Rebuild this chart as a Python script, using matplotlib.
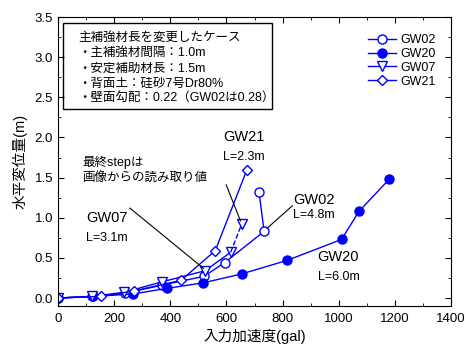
import matplotlib
matplotlib.use("Agg")
import matplotlib.pyplot as plt
from matplotlib.patches import Rectangle
from matplotlib.ticker import MultipleLocator

plt.rcParams['font.family'] = ['Liberation Sans', 'Noto Sans CJK JP', 'DejaVu Sans']

# 入力加速度(gal) と 水平変位量(m)
gw02_x = [0, 120, 240, 369, 520, 593, 734, 716]
gw02_y = [0, 0.02, 0.06, 0.16, 0.27, 0.44, 0.83, 1.32]

gw20_x = [0, 126, 266, 388, 518, 654, 817, 1010, 1072, 1180]
gw20_y = [0, 0.02, 0.05, 0.12, 0.19, 0.30, 0.47, 0.73, 1.08, 1.48]

gw07_x = [0, 120, 234, 369, 524, 615, 654]
gw07_y = [0, 0.02, 0.07, 0.20, 0.34, 0.57, 0.92]

gw21_x = [0, 152, 272, 438, 560, 672]
gw21_y = [0, 0.02, 0.09, 0.22, 0.59, 1.59]

box_lines = ["主補強材長を変更したケース",
             "・主補強材間隔：1.0m",
             "・安定補助材長：1.5m",
             "・背面土：硅砂7号Dr80%",
             "・壁面勾配：0.22（GW02は0.28）"]

c = "#0000ff"
fig = plt.figure(figsize=(4.66, 3.47), dpi=100)
ax = fig.add_axes([0.1245, 0.118, 0.8435, 0.833])

ax.plot(gw02_x, gw02_y, "-o", color=c, mfc="white", ms=6.5, lw=1, label="GW02")
ax.plot(gw20_x, gw20_y, "-o", color=c, mfc=c, ms=6.5, lw=1, label="GW20")
ax.plot(gw07_x[:-1], gw07_y[:-1], "-v", color=c, mfc="white", ms=7, lw=1, label="GW07")
ax.plot(gw07_x[-2:], gw07_y[-2:], "--", color=c, lw=1)
ax.plot(gw07_x[-1:], gw07_y[-1:], "v", color=c, mfc="white", ms=7)
ax.plot(gw21_x, gw21_y, "-D", color=c, mfc="white", ms=5.5, lw=1, label="GW21")

ax.set_xlim(0, 1400)
ax.set_ylim(-0.1, 3.5)
ax.xaxis.set_major_locator(MultipleLocator(200))
ax.xaxis.set_minor_locator(MultipleLocator(100))
ax.yaxis.set_major_locator(MultipleLocator(0.5))
ax.yaxis.set_minor_locator(MultipleLocator(0.25))
ax.yaxis.set_major_formatter(matplotlib.ticker.FormatStrFormatter("%.1f"))
ax.tick_params(which="both", direction="in", top=True, right=True, labelsize=9.5)
ax.tick_params(which="major", length=4)
ax.tick_params(which="minor", length=2.5)
ax.tick_params(axis="x", pad=5)
ax.set_xlabel("入力加速度(gal)", fontsize=10.5, labelpad=3)
ax.set_ylabel("水平変位量(m)", fontsize=10.5, labelpad=5)

leg = ax.legend(loc="upper right", frameon=False, fontsize=9,
                bbox_to_anchor=(0.99, 0.98), handlelength=2.2,
                labelspacing=0.15, handletextpad=0.4)

# 条件ボックス
ax.add_patch(Rectangle((0.013, 0.683), 0.532, 0.296, transform=ax.transAxes,
                       fill=False, ec="black", lw=1))
for i, s in enumerate(box_lines):
    ax.text(0.052, 0.928 - i * 0.053, s, transform=ax.transAxes,
            fontsize=9, va="center", ha="left")

# ラベル
ax.text(588, 2.00, "GW21", fontsize=10.5, va="center")
ax.text(588, 1.76, "L=2.3m", fontsize=9, va="center")
ax.text(838, 1.22, "GW02", fontsize=10.5, va="center")
ax.text(838, 1.04, "L=4.8m", fontsize=9, va="center")
ax.text(925, 0.51, "GW20", fontsize=10.5, va="center")
ax.text(925, 0.26, "L=6.0m", fontsize=9, va="center")
ax.text(100, 1.00, "GW07", fontsize=10.5, va="center")
ax.text(100, 0.75, "L=3.1m", fontsize=9, va="center")
ax.text(88, 1.69, "最終stepは", fontsize=9, va="center")
ax.text(88, 1.49, "画像からの読み取り値", fontsize=9, va="center")

ax.plot([599, 650], [1.41, 0.96], color="black", lw=0.8)
ax.plot([835, 745], [1.15, 0.87], color="black", lw=0.8)
ax.plot([256, 518], [1.12, 0.37], color="black", lw=0.8)

fig.savefig("out.png", dpi=100)
